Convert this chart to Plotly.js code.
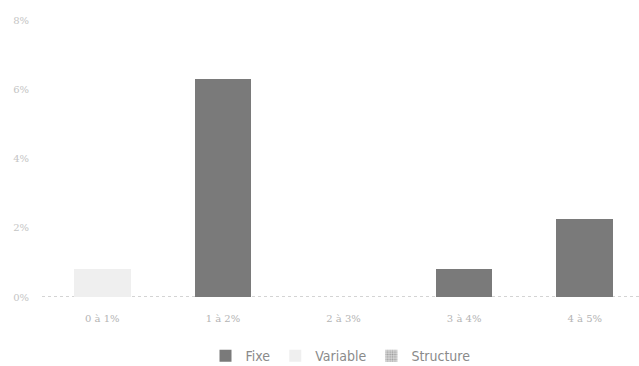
<!DOCTYPE html>
<html>
<head>
<meta charset="utf-8">
<script src="https://cdn.plot.ly/plotly-3.0.1.min.js"></script>
<style>
  html, body { margin: 0; padding: 0; background: #fff; }
  #chart { width: 639px; height: 366px; }
</style>
</head>
<body>
<div id="chart"></div>
<script>
// Rate bands
const categories = ['0 à 1%', '1 à 2%', '2 à 3%', '3 à 4%', '4 à 5%'];
// Share per rate type (%)
const fixe = [0, 6.3, 0, 0.8, 2.25];
const variable = [0.8, 0, 0, 0, 0];
const structure = [0, 0, 0, 0, 0];
const yTicks = [0, 2, 4, 6, 8];
const yTickText = ['0%', '2%', '4%', '6%', '8%'];

const barWidth = 0.47;
const tickFamily = '"DejaVu Serif", "Liberation Serif", serif';
const legendFamily = '"DejaVu Sans Condensed", "Liberation Sans Narrow", "Roboto", sans-serif';

const traces = [
  {
    type: 'bar', name: 'Fixe', x: categories, y: fixe, width: barWidth,
    marker: { color: '#7a7a7a', line: { width: 0 } }
  },
  {
    type: 'bar', name: 'Variable', x: categories, y: variable, width: barWidth,
    marker: { color: '#efefef', line: { width: 0 } }
  },
  {
    type: 'bar', name: 'Structure', x: categories, y: structure, width: barWidth,
    marker: {
      color: '#d4d4d4', line: { width: 0 },
      pattern: { shape: '.', fgcolor: '#9a9a9a', bgcolor: '#d8d8d8', size: 3, solidity: 0.4 }
    }
  }
];

const layout = {
  width: 639, height: 366,
  margin: { l: 42, r: 0, t: 20, b: 69, autoexpand: false },
  paper_bgcolor: '#ffffff', plot_bgcolor: '#ffffff',
  barmode: 'stack',
  showlegend: true,
  font: { family: legendFamily, color: '#999' },
  xaxis: {
    type: 'category', range: [-0.5, 4.45],
    showgrid: false, zeroline: false, showline: false, ticks: '',
    ticklabelstandoff: 14,
    tickfont: { size: 10, color: '#b4b4b4', family: tickFamily }
  },
  yaxis: {
    range: [0, 8], tickvals: yTicks, ticktext: yTickText,
    showgrid: false, zeroline: false, showline: false, ticks: '',
    ticklabelstandoff: 12,
    tickfont: { size: 10, color: '#c4c4c4', family: tickFamily }
  },
  shapes: [
    {
      type: 'line', xref: 'paper', yref: 'y', x0: 0, x1: 1, y0: 0, y1: 0,
      line: { color: '#a8a8a8', width: 1, dash: 'dot' }, layer: 'below'
    }
  ],
  legend: {
    orientation: 'h', x: 0.5, xanchor: 'center',
    yref: 'container', y: 0.027, yanchor: 'middle',
    font: { size: 14, color: '#8a8a8a', family: legendFamily },
    traceorder: 'normal'
  }
};

Plotly.newPlot('chart', traces, layout, { displayModeBar: false, staticPlot: true });
</script>
</body>
</html>
